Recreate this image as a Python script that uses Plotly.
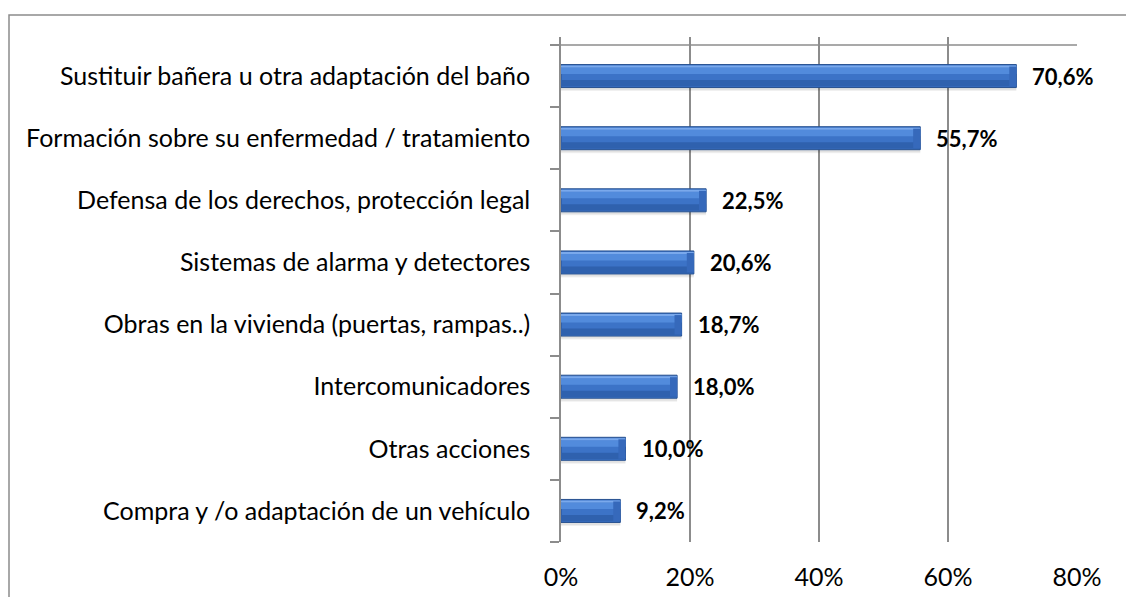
import plotly.graph_objects as go

# Survey results: share of respondents per requested adaptation (top to bottom)
categories = [
    "Sustituir bañera u otra adaptación del baño",
    "Formación sobre su enfermedad / tratamiento",
    "Defensa de los derechos, protección legal",
    "Sistemas de alarma y detectores",
    "Obras en la vivienda (puertas, rampas..)",
    "Intercomunicadores",
    "Otras acciones",
    "Compra y /o adaptación de un vehículo",
]
values = [70.6, 55.7, 22.5, 20.6, 18.7, 18.0, 10.0, 9.2]
x_ticks = [0, 20, 40, 60, 80]
x_tick_labels = ["0%", "20%", "40%", "60%", "80%"]

# plotted bottom-to-top
cats = categories[::-1]
vals = values[::-1]

FONT = "Lato, 'Open Sans', sans-serif"
PX = 1 / 62.125          # one pixel in category units
CAP = 1.1                # length of the bevelled end facet, in %

fig = go.Figure()


def band(lo_px, hi_px, color, line=None, base=None, length=None):
    """Horizontal strip of each bar between lo_px and hi_px (pixels from bar centre)."""
    fig.add_trace(go.Bar(
        y=cats, x=length if length is not None else vals, base=base,
        orientation="h", width=(hi_px - lo_px) * PX, offset=lo_px * PX,
        marker=dict(color=color, line=line or dict(width=0)), hoverinfo="skip",
    ))


# soft drop shadow
band(-15, -9, "rgba(0,0,0,0.06)")
band(-14, -10, "rgba(0,0,0,0.06)")
# body, shading bands and top glint
band(-11.5, 11.5, "#3c73c7", line=dict(color="#27508f", width=1))
band(-10.5, -4, "#2f61ae")
band(2, 8.5, "#528bdc")
band(8.5, 10.5, "#7aa9ec")
# bevelled end facet
cap_base = [v - CAP for v in vals]
cap_len = [CAP] * len(vals)
band(-10, 9.5, "#3669bb", base=cap_base, length=cap_len)

# value labels
for c, v in zip(cats, vals):
    fig.add_annotation(
        x=v, y=c, xref="x", yref="y", text=f"{v:.1f}%".replace(".", ","),
        showarrow=False, xanchor="left", yanchor="middle", xshift=14,
        font=dict(family=FONT, size=22, color="#000000", weight="bold"),
    )

GRID = "#8c8c8c"
# plot area spans 37..542 px vertically, 561..1077 px horizontally
top_extra = 8 * PX
fig.update_layout(
    width=1126, height=597,
    margin=dict(l=561, r=49, t=37, b=55),
    paper_bgcolor="white", plot_bgcolor="white",
    showlegend=False, barmode="overlay",
    font=dict(family=FONT, size=25, color="#000000"),
    xaxis=dict(
        range=[0, 80], tickvals=x_ticks, ticktext=x_tick_labels,
        showgrid=True, gridcolor=GRID, gridwidth=1.5, zeroline=False,
        showline=False, ticks="", ticklabelstandoff=18, automargin=False,
        tickfont=dict(family=FONT, size=25),
    ),
    yaxis=dict(
        range=[-0.5, 7.5 + top_extra], showgrid=False, zeroline=False,
        showline=True, linecolor=GRID, linewidth=1.5,
        ticks="outside", ticklen=9, tickcolor=GRID, tickwidth=1.5,
        tickson="boundaries", ticklabelstandoff=24, automargin=False,
        tickfont=dict(family=FONT, size=25),
    ),
)

# top edge of the category band
fig.add_shape(type="line", xref="paper", yref="y",
              x0=-9 / 516, x1=1.0, y0=7.5, y1=7.5,
              line=dict(color=GRID, width=1.5))

# outer chart frame (continues past the right and bottom edges)
fig.add_shape(type="rect", xref="paper", yref="paper",
              x0=(9 - 561) / 516, x1=(1140 - 561) / 516,
              y0=(542 - 610) / 505, y1=(542 - 15) / 505,
              line=dict(color="#8c8c8c", width=1.5), fillcolor="rgba(0,0,0,0)")

fig.write_html("out.html")
